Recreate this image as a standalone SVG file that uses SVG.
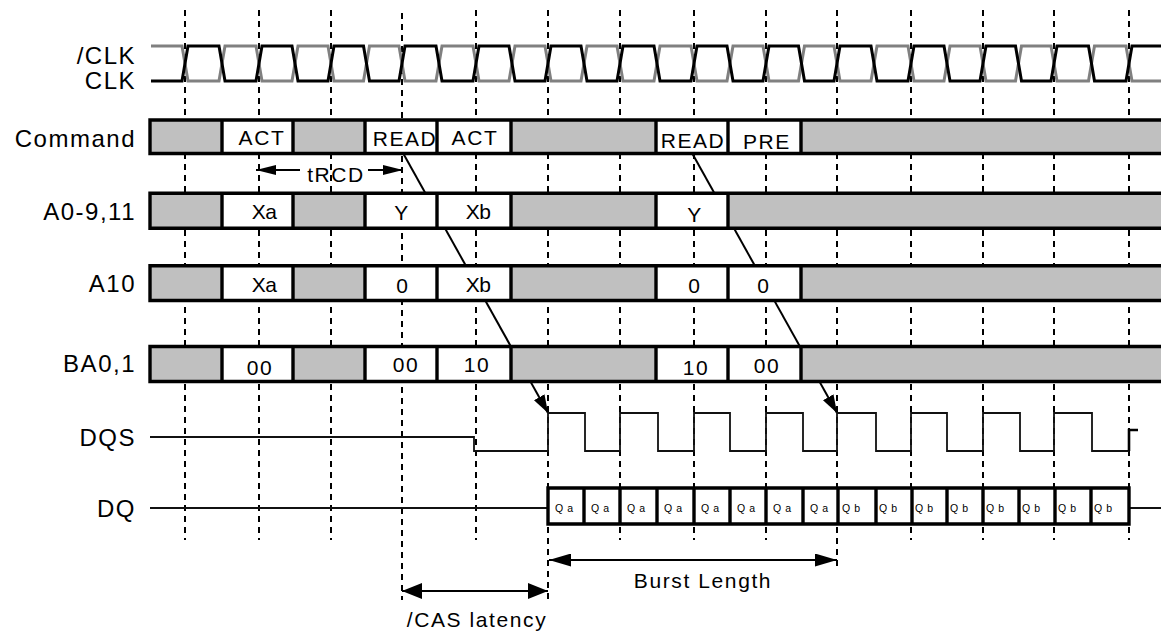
<svg xmlns="http://www.w3.org/2000/svg" width="1161" height="633" viewBox="0 0 1161 633">
<style>
.t{font-family:"Liberation Sans",Arial,sans-serif;font-size:21px;letter-spacing:1.6px;fill:#000}
.lbl{text-anchor:end;font-size:24px;letter-spacing:1.5px}
.c{text-anchor:middle}
.tight{letter-spacing:-0.5px}
.q{font-family:"Liberation Sans",Arial,sans-serif;font-size:10.5px;letter-spacing:4px;fill:#000}
.dash{stroke:#000;stroke-width:2;stroke-dasharray:6 5;fill:none}
.gray{fill:#c0c0c0}
.white{fill:#fff}
.bord{stroke:#000;stroke-width:3.4;fill:none}
.sig{stroke:#111;stroke-width:1.8;fill:none}
.diag{stroke:#000;stroke-width:2;fill:none}
.dim{stroke:#000;stroke-width:2;fill:none}
</style>
<defs>
<marker id="ahDiag" markerUnits="userSpaceOnUse" markerWidth="18" markerHeight="12" refX="18" refY="6" orient="auto"><path d="M0,0 L18,6 L0,12 z" fill="#000"/></marker>
<marker id="ahT" markerUnits="userSpaceOnUse" markerWidth="20" markerHeight="10" refX="20" refY="5" orient="auto-start-reverse"><path d="M0,0 L20,5 L0,10 z" fill="#000"/></marker>
<marker id="ahB" markerUnits="userSpaceOnUse" markerWidth="22" markerHeight="13" refX="22" refY="6.5" orient="auto-start-reverse"><path d="M0,0 L22,6.5 L0,13 z" fill="#000"/></marker>
<marker id="ahC" markerUnits="userSpaceOnUse" markerWidth="20" markerHeight="16" refX="20" refY="8" orient="auto-start-reverse"><path d="M0,0 L20,8 L0,16 z" fill="#000"/></marker>
</defs>
<rect width="1161" height="633" fill="#fff"/>

<g id="gridlines">
<path class="dash" d="M185,10 V540 M259,10 V540 M331,10 V540 M402,13 V600 M476,10 V540 M548,10 V600 M620,10 V540 M694,10 V540 M766,10 V540 M837,10 V566 M911,10 V540 M983,10 V540 M1054,10 V540 M1129,10 V540"/>
</g>

<g id="connectors">
<line class="diag" x1="403" y1="153" x2="548" y2="413" marker-end="url(#ahDiag)"/>
<line class="diag" x1="692" y1="153" x2="837" y2="413" marker-end="url(#ahDiag)"/>
<path class="dim" d="M256,170 H300" marker-start="url(#ahT)"/>
<path class="dim" d="M368,170 H403" marker-end="url(#ahT)"/>
<path class="dim" d="M549,560 H837" marker-start="url(#ahB)" marker-end="url(#ahB)"/>
<path class="dim" d="M402,591 H548" marker-start="url(#ahC)" marker-end="url(#ahC)"/>
</g>

<g id="clock">
<path d="M151,46 H182 L188,81 H219 L225,46 H256 L262,81 H292 L298,46 H328 L334,81 H363.5 L369.5,46 H399 L405,81 H436 L442,46 H473 L479,81 H509 L515,46 H545 L551,81 H581 L587,46 H617 L623,81 H654 L660,46 H691 L697,81 H727 L733,46 H763 L769,81 H798.5 L804.5,46 H834 L840,81 H871 L877,46 H908 L914,81 H944 L950,46 H980 L986,81 H1015.5 L1021.5,46 H1051 L1057,81 H1088.5 L1094.5,46 H1126 L1132,81 H1161" fill="none" stroke="#808080" stroke-width="3"/>
<path d="M151,81 H182 L188,46 H219 L225,81 H256 L262,46 H292 L298,81 H328 L334,46 H363.5 L369.5,81 H399 L405,46 H436 L442,81 H473 L479,46 H509 L515,81 H545 L551,46 H581 L587,81 H617 L623,46 H654 L660,81 H691 L697,46 H727 L733,81 H763 L769,46 H798.5 L804.5,81 H834 L840,46 H871 L877,81 H908 L914,46 H944 L950,81 H980 L986,46 H1015.5 L1021.5,81 H1051 L1057,46 H1088.5 L1094.5,81 H1126 L1132,46 H1161" fill="none" stroke="#000" stroke-width="3"/>
</g>

<g id="labels">
<text class="t lbl" x="136" y="64">/CLK</text>
<text class="t lbl" x="136" y="89">CLK</text>
<text class="t lbl" x="136" y="147">Command</text>
<text class="t lbl" x="136" y="220">A0-9,11</text>
<text class="t lbl" x="136" y="292">A10</text>
<text class="t lbl" x="136" y="372">BA0,1</text>
<text class="t lbl" x="136" y="446">DQS</text>
<text class="t lbl" x="136" y="517">DQ</text>
</g>

<g id="row-command">
<rect class="gray" x="150" y="120" width="1011" height="33.5"/>
<rect class="white" x="222" y="120" width="71" height="33.5"/>
<rect class="white" x="365" y="120" width="146" height="33.5"/>
<rect class="white" x="656" y="120" width="145" height="33.5"/>
<path class="bord" d="M150,120 H1161 M150,153.5 H1161 M150,118.3 V155.2 M222,120 V153.5 M293,120 V153.5 M365,120 V153.5 M437,120 V153.5 M511,120 V153.5 M656,120 V153.5 M728,120 V153.5 M801,120 V153.5"/>
<text class="t c" x="262" y="145">ACT</text>
<text class="t c" x="405" y="146">READ</text>
<text class="t c" x="475" y="145">ACT</text>
<text class="t c" x="693" y="147.5">READ</text>
<text class="t c" x="767" y="149">PRE</text>
</g>

<g id="row-a0911">
<rect class="gray" x="150" y="193.3" width="1011" height="35"/>
<rect class="white" x="222" y="193.3" width="71" height="35"/>
<rect class="white" x="365" y="193.3" width="146" height="35"/>
<rect class="white" x="656" y="193.3" width="72" height="35"/>
<path class="bord" d="M150,193.3 H1161 M150,228.3 H1161 M150,191.6 V230 M222,193.3 V228.3 M293,193.3 V228.3 M365,193.3 V228.3 M437,193.3 V228.3 M511,193.3 V228.3 M656,193.3 V228.3 M728,193.3 V228.3"/>
<text class="t c tight" x="264" y="218.5">Xa</text>
<text class="t c" x="402" y="220">Y</text>
<text class="t c tight" x="478" y="218.5">Xb</text>
<text class="t c" x="695" y="221.5">Y</text>
</g>

<g id="row-a10">
<rect class="gray" x="150" y="265.7" width="1011" height="34.8"/>
<rect class="white" x="222" y="265.7" width="71" height="34.8"/>
<rect class="white" x="365" y="265.7" width="146" height="34.8"/>
<rect class="white" x="656" y="265.7" width="145" height="34.8"/>
<path class="bord" d="M150,265.7 H1161 M150,300.5 H1161 M150,264 V302.2 M222,265.7 V300.5 M293,265.7 V300.5 M365,265.7 V300.5 M437,265.7 V300.5 M511,265.7 V300.5 M656,265.7 V300.5 M728,265.7 V300.5 M801,265.7 V300.5"/>
<text class="t c tight" x="264" y="292">Xa</text>
<text class="t c" x="403" y="293.3">0</text>
<text class="t c tight" x="478" y="292">Xb</text>
<text class="t c" x="695" y="293">0</text>
<text class="t c" x="764" y="293">0</text>
</g>

<g id="row-ba01">
<rect class="gray" x="150" y="346.5" width="1011" height="35"/>
<rect class="white" x="222" y="346.5" width="71" height="35"/>
<rect class="white" x="365" y="346.5" width="146" height="35"/>
<rect class="white" x="656" y="346.5" width="145" height="35"/>
<path class="bord" d="M150,346.5 H1161 M150,381.5 H1161 M150,344.8 V383.2 M222,346.5 V381.5 M293,346.5 V381.5 M365,346.5 V381.5 M437,346.5 V381.5 M511,346.5 V381.5 M656,346.5 V381.5 M728,346.5 V381.5 M801,346.5 V381.5"/>
<text class="t c" x="260" y="375">00</text>
<text class="t c" x="406" y="372">00</text>
<text class="t c" x="477" y="372">10</text>
<text class="t c" x="696" y="375">10</text>
<text class="t c" x="767" y="373">00</text>
</g>

<g id="dqs">
<path class="sig" d="M150,437 H474 V451 H548 V413 H585 V451 H620 V413 H658 V451 H694 V413 H730 V451 H766 V413 H803 V451 H837 V413 H876 V451 H911 V413 H947 V451 H983 V413 H1020 V451 H1054 V413 H1092 V451 H1129"/>
<path d="M1129,451 V430 H1138" fill="none" stroke="#000" stroke-width="2.6"/>
</g>

<g id="dq">
<path class="sig" d="M150,508 H548 M1129,508 H1161"/>
<rect class="white" x="548" y="488" width="581" height="36"/>
<path class="bord" d="M546.3,488 H1130.7 M546.3,524 H1130.7 M548,488 V524 M584,488 V524 M620,488 V524 M657,488 V524 M694,488 V524 M730,488 V524 M766,488 V524 M803,488 V524 M838,488 V524 M876,488 V524 M912,488 V524 M947,488 V524 M983,488 V524 M1019,488 V524 M1055,488 V524 M1091,488 V524 M1129,488 V524"/>
<text class="q" x="555" y="512">Qa</text>
<text class="q" x="591" y="512">Qa</text>
<text class="q" x="627" y="512">Qa</text>
<text class="q" x="664" y="512">Qa</text>
<text class="q" x="701" y="512">Qa</text>
<text class="q" x="737" y="512">Qa</text>
<text class="q" x="773" y="512">Qa</text>
<text class="q" x="810" y="512">Qa</text>
<text class="q" x="842" y="512">Qb</text>
<text class="q" x="879" y="512">Qb</text>
<text class="q" x="915" y="512">Qb</text>
<text class="q" x="950" y="512">Qb</text>
<text class="q" x="986" y="512">Qb</text>
<text class="q" x="1022" y="512">Qb</text>
<text class="q" x="1058" y="512">Qb</text>
<text class="q" x="1094" y="512">Qb</text>
</g>

<g id="annotations">
<text class="t c" x="336" y="182">tRCD</text>
<text class="t c" x="703" y="588">Burst Length</text>
<text class="t c" x="477" y="627">/CAS latency</text>
</g>
</svg>
